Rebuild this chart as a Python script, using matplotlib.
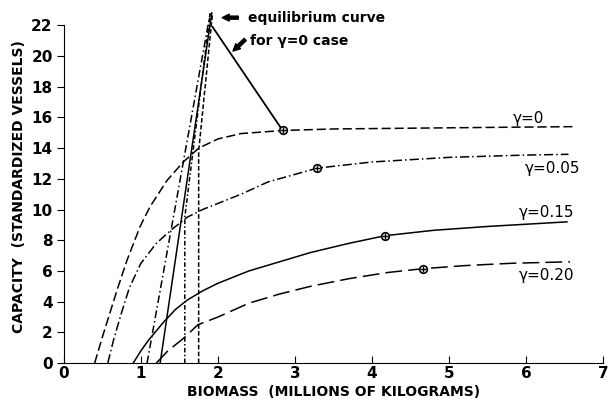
import numpy as np
import matplotlib.pyplot as plt

# Curvas de capacidad
x_g0 = [0.40, 0.50, 0.60, 0.70, 0.82, 0.99, 1.12, 1.34, 1.55, 1.75, 2.0, 2.3, 2.84, 3.5, 4.5, 5.5, 6.6]
y_g0 = [0, 1.7, 3.3, 4.9, 6.7, 8.9, 10.2, 11.9, 13.1, 14.0, 14.6, 14.95, 15.15, 15.25, 15.3, 15.35, 15.4]

x_g05 = [0.57, 0.65, 0.75, 0.85, 1.0, 1.2, 1.4, 1.6, 1.8, 2.0, 2.3, 2.65, 3.29, 4.0, 5.0, 6.0, 6.55]
y_g05 = [0, 1.6, 3.3, 4.9, 6.5, 7.8, 8.7, 9.5, 10.0, 10.4, 11.0, 11.8, 12.7, 13.1, 13.4, 13.55, 13.6]

x_g15 = [0.9, 1.0, 1.1, 1.2, 1.3, 1.45, 1.6, 1.8, 2.0, 2.4, 2.8, 3.2, 3.7, 4.17, 4.8, 5.5, 6.53]
y_g15 = [0, 0.8, 1.5, 2.1, 2.7, 3.5, 4.1, 4.7, 5.2, 6.0, 6.6, 7.2, 7.8, 8.3, 8.65, 8.9, 9.2]

x_g20 = [1.2, 1.35, 1.55, 1.74, 2.0, 2.4, 2.8, 3.2, 3.7, 4.2, 4.66, 5.2, 5.8, 6.57]
y_g20 = [0, 0.8, 1.6, 2.5, 3.0, 3.9, 4.5, 5.0, 5.5, 5.9, 6.15, 6.35, 6.5, 6.6]

# puntos marcados sobre cada curva
x_mark = [2.84, 3.29, 4.17, 4.66]
y_mark = [15.15, 12.7, 8.3, 6.15]

# curvas de equilibrio (casi verticales)
x_eq0 = [1.75, 1.75, 1.93]
y_eq0 = [0, 13.8, 22.8]
x_eq05 = [1.57, 1.57, 1.90]
y_eq05 = [0, 9.5, 22.8]
x_eq15 = [1.25, 1.92]
y_eq15 = [0, 22.8]
x_eq20 = [1.08, 1.90]
y_eq20 = [0, 22.8]

# trayectoria hacia el equilibrio gamma=0
x_path = [1.93, 2.84]
y_path = [21.9, 15.15]

etiquetas = ["\u03b3=0", "\u03b3=0.05", "\u03b3=0.15", "\u03b3=0.20"]
x_etiq = [6.03, 6.35, 6.27, 6.27]
y_etiq = [15.95, 12.7, 9.8, 5.7]

plt.rcParams['font.family'] = 'DejaVu Sans'
fig = plt.figure(figsize=(6.08, 4.15), dpi=100)
ax = fig.add_axes([0.105, 0.125, 0.887, 0.851])

lw = 1.1
dash_g0 = (0, (6, 2.5))
dash_g05 = (0, (6, 2, 1, 2))
dash_g20 = (0, (11, 4))

ax.plot(x_g0, y_g0, color="black", lw=lw, linestyle=dash_g0)
ax.plot(x_g05, y_g05, color="black", lw=lw, linestyle=dash_g05)
ax.plot(x_g15, y_g15, color="black", lw=lw, linestyle="-")
ax.plot(x_g20, y_g20, color="black", lw=lw, linestyle=dash_g20)

ax.plot(x_eq0, y_eq0, color="black", lw=lw, linestyle=(0, (3, 1.5)))
ax.plot(x_eq05, y_eq05, color="black", lw=lw, linestyle=(0, (3, 1.5, 1, 1.5)))
ax.plot(x_eq15, y_eq15, color="black", lw=lw, linestyle="-")
ax.plot(x_eq20, y_eq20, color="black", lw=lw, linestyle=(0, (5, 2, 1, 2)))

ax.plot(x_path, y_path, color="black", lw=1.3)

ax.scatter(x_mark, y_mark, s=30, facecolor="white", edgecolor="black", linewidth=1.2, zorder=5)
ax.scatter(x_mark, y_mark, s=20, marker="+", color="black", linewidth=1, zorder=6)

for t, xe, ye in zip(etiquetas, x_etiq, y_etiq):
    ax.text(xe, ye, t, ha="center", va="center", fontsize=11)

ax.text(2.39, 22.5, "equilibrium curve", ha="left", va="center", fontsize=10, fontweight="bold")
ax.text(3.06, 20.95, "for \u03b3=0 case", ha="center", va="center", fontsize=10, fontweight="bold")
ax.annotate("", xy=(2.02, 22.5), xytext=(2.3, 22.5),
            arrowprops=dict(arrowstyle="simple,head_width=0.5,head_length=0.5,tail_width=0.22",
                            color="black"))
ax.annotate("", xy=(2.17, 20.2), xytext=(2.38, 21.2),
            arrowprops=dict(arrowstyle="simple,head_width=0.5,head_length=0.5,tail_width=0.22",
                            color="black"))

ax.set_xlim(0, 7)
ax.set_ylim(0, 23)
ax.set_xticks(range(0, 8))
ax.set_yticks(range(0, 23, 2))
ax.spines["top"].set_visible(False)
ax.spines["right"].set_visible(False)
ax.spines["left"].set_bounds(0, 22)
ax.tick_params(axis="x", direction="in", length=5, labelsize=11, pad=2)
ax.tick_params(axis="y", direction="out", length=5, labelsize=11, pad=3)
for lab in ax.get_xticklabels() + ax.get_yticklabels():
    lab.set_fontweight("bold")

ax.set_xlabel("BIOMASS  (MILLIONS OF KILOGRAMS)", fontsize=10, fontweight="bold", labelpad=3)
ax.set_ylabel("CAPACITY  (STANDARDIZED VESSELS)", fontsize=10, fontweight="bold", labelpad=4)

fig.savefig("out.png", dpi=100)
